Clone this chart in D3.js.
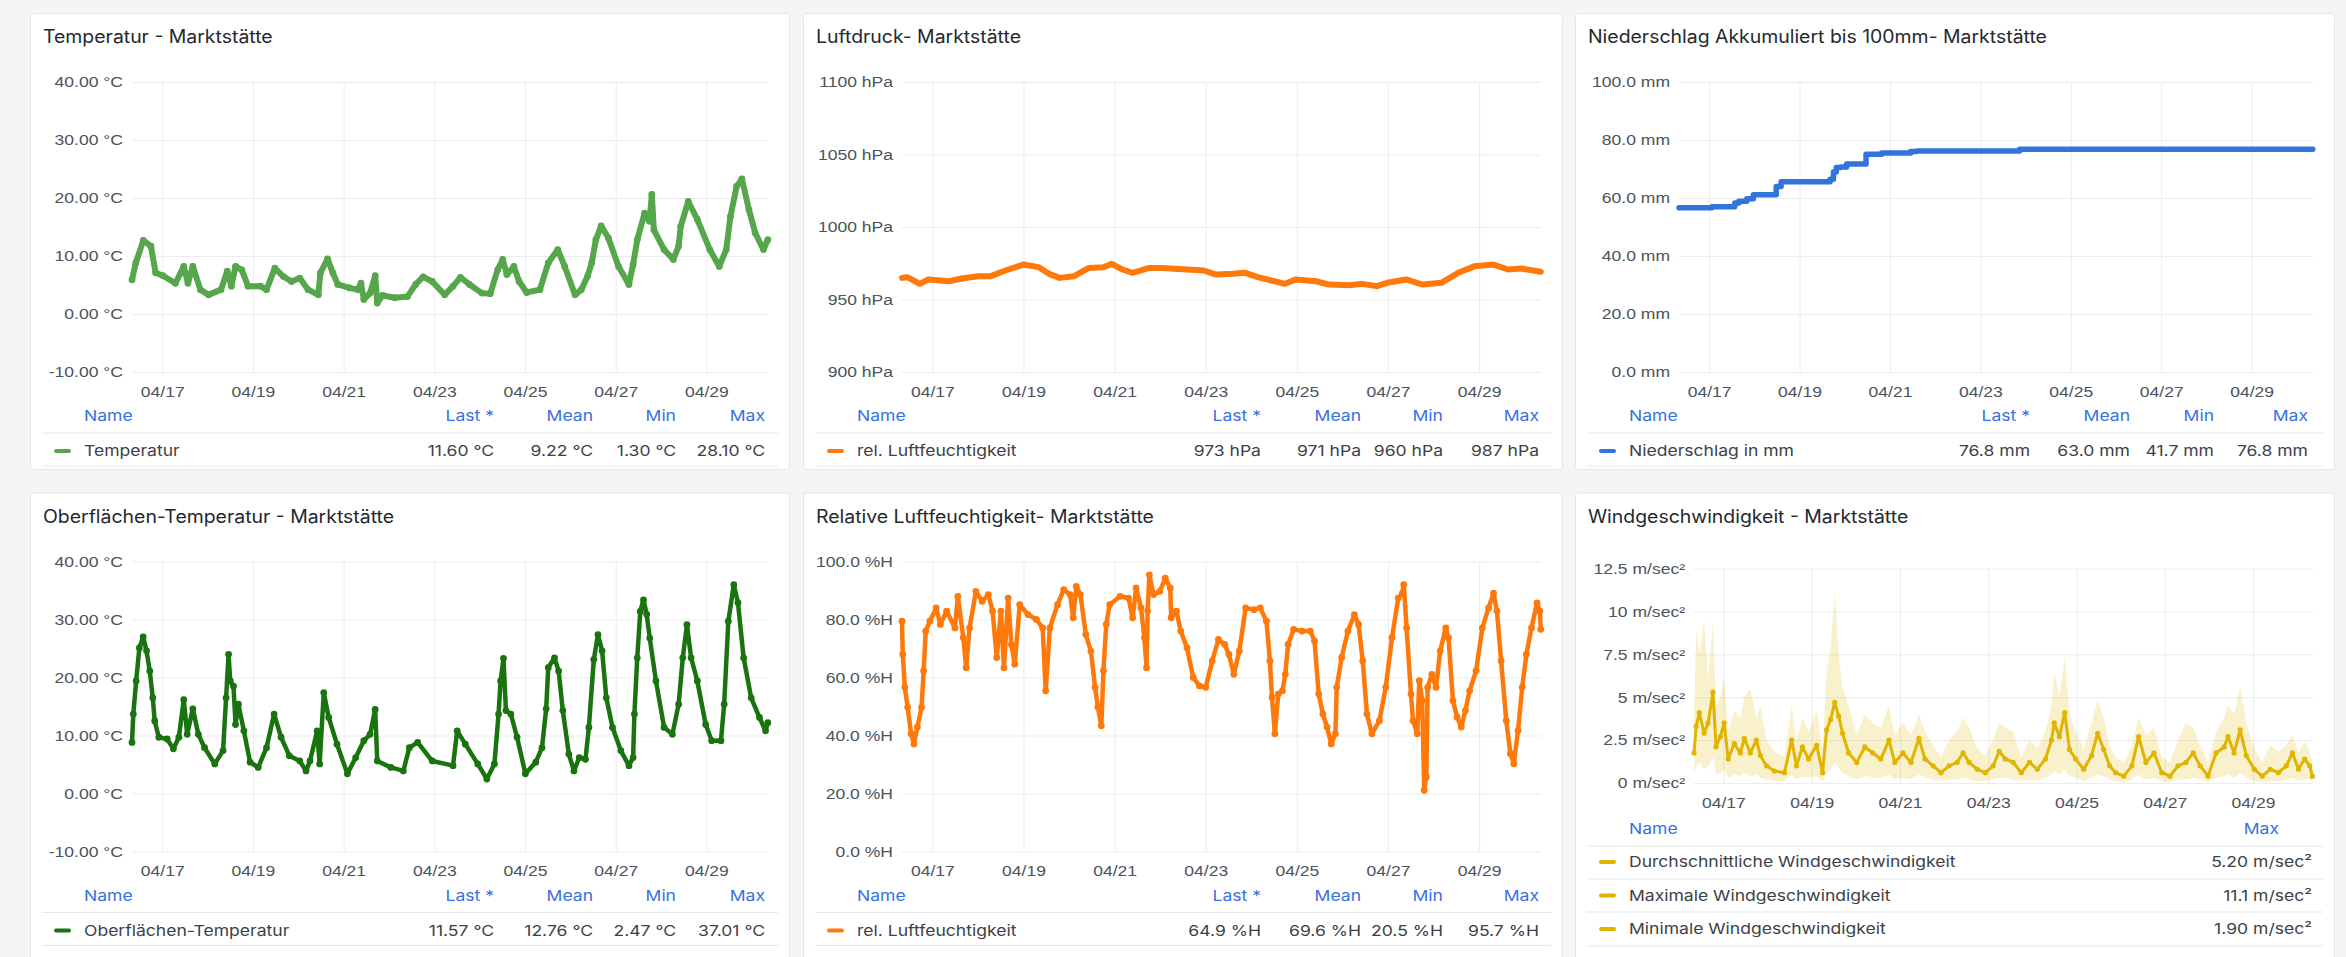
<!DOCTYPE html>
<html>
<head>
<meta charset="utf-8">
<script src="https://cdn.jsdelivr.net/npm/d3@7"></script>
<style>
  html, body { margin: 0; padding: 0; background: #f4f5f5; }
  svg { display: block; font-family: Inter, "Noto Sans", sans-serif; }
  .grid line { stroke: #ebecee; stroke-width: 1; }
  .grid text { fill: #4d535b; font-size: 15px; }
</style>
</head>
<body>
<div id="graph-container"></div>
<script>
// hours since 2024-04-16 00:00, value
const temperatur = [[8,5.9],[10,8.8],[14,12.7],[18,11.7],[20.5,7.1],[24.4,6.6],[31,5.3],[35.4,8.2],[37.6,5.3],[40.2,8.2],[44.2,4.2],[48.5,3.3],[55.1,4.2],[58.4,7.4],[60.6,4.8],[62.8,8.2],[66.1,7.6],[69.4,4.8],[75.9,4.8],[79.2,4.2],[83.6,7.9],[88,6.5],[92.4,5.6],[96.8,6.2],[101.2,4.2],[106.6,3.3],[107.7,7.1],[111.5,9.5],[114.3,7.1],[116.9,5.1],[123.1,4.5],[127.5,4.2],[129.2,5.3],[130.7,2.5],[134,3.6],[136.7,6.6],[137.8,1.9],[140.6,3.2],[147.2,2.8],[153.8,3.0],[158.1,5.1],[162.1,6.4],[166.9,5.6],[173.5,3.3],[177.9,4.8],[181.8,6.3],[186.6,5.1],[193.2,3.6],[197.6,3.5],[201.5,7.6],[204.2,9.4],[206.4,6.8],[210.1,8.2],[212.9,5.6],[216.9,3.7],[223.9,4.2],[228.3,8.8],[233.3,11.1],[237,8.2],[242.5,3.3],[245.8,4.2],[249.1,6.5],[251.3,8.8],[253.5,12.8],[256.3,15.2],[260.1,13.1],[265.5,8.2],[271,5.1],[273.2,8.5],[275.4,12.8],[279.3,17.4],[281.9,16.0],[283.1,20.6],[284.2,14.5],[289.6,11.1],[294.5,9.4],[297.3,11.7],[298.4,15.1],[302.4,19.4],[307.2,16.3],[313.8,11.1],[318.8,8.2],[322.5,11.1],[324.7,16.8],[328,22.0],[330.8,23.3],[334.5,18.0],[337.8,14.0],[342.2,11.1],[344.5,12.8]];

const luftdruck = [[8,964.9],[10.8,965.4],[17.4,960.8],[21.8,963.8],[32.8,962.6],[39.4,964.5],[48.2,966.1],[54.8,966.1],[61.4,969.5],[65.8,971.4],[71.9,974.1],[80,972.3],[85.5,967.7],[91,964.9],[98.7,966.1],[106.4,971.8],[114.1,972.3],[118.5,974.6],[124,970.7],[129.5,968.4],[138.3,971.8],[144.9,971.8],[158.1,970.7],[166.9,970],[173.5,967.2],[182.2,967.7],[188.8,968.4],[195.4,965.4],[209.7,960.8],[215.2,963.8],[226.2,962.6],[232.8,960.3],[243.8,959.9],[250.4,960.8],[258.1,959.2],[263.6,961.5],[273.5,963.8],[282.3,960.3],[292.1,961.5],[301,968.4],[309.7,973],[319.6,974.1],[327.3,970.7],[333.9,971.4],[344.5,969.1]];

const niederschlag = [[8,56.6],[25.5,57.0],[37.6,58.3],[39.8,58.9],[44,59.7],[47.5,61.1],[59.6,64.0],[62.2,65.6],[88.2,66.5],[90,69.0],[91.5,70.5],[93.7,70.7],[97,71.7],[107.3,75.1],[115.6,75.5],[131,76.0],[134.3,76.2],[188.8,76.8],[344.5,76.8]];

const oberflaeche = [[8,8.8],[8.7,13.7],[10.2,19.4],[11.9,25.1],[13.9,27.0],[15.7,24.6],[17.4,21.1],[19,16.5],[20,12.5],[22.2,9.7],[26.6,9.4],[29.9,7.7],[32.8,9.7],[35.4,16.2],[37.2,10.2],[40.2,14.6],[43.1,10.2],[46.4,7.9],[51.8,5.1],[56.2,7.4],[57.8,16.5],[59.1,24.0],[60,19.4],[61.7,18.5],[62.8,11.9],[64.3,15.4],[67.2,10.8],[70.5,5.4],[74.8,4.5],[79.2,7.9],[83.2,13.7],[86.9,9.7],[91.3,6.5],[96.8,5.6],[100.1,3.9],[102.2,5.6],[106,10.8],[107.3,5.1],[109.5,17.4],[112.1,13.1],[116.5,8.5],[122,3.4],[126.4,6.2],[130.7,9.1],[134,10.2],[136.7,14.5],[137.8,5.6],[145,4.5],[151.6,3.9],[154.8,7.9],[159.2,8.8],[166.9,5.6],[177.9,4.8],[180.1,10.8],[184.4,8.5],[191,5.1],[195.8,2.5],[199.8,5.1],[202,13.7],[203.1,19.4],[204.6,23.3],[205.9,14.3],[208.5,13.7],[211.8,9.7],[216.2,3.4],[221.7,5.4],[225,7.9],[227.2,14.6],[228.3,21.7],[231.6,23.4],[233.8,21.1],[236,14.3],[239.2,6.8],[241.9,3.9],[244.7,6.2],[248,5.9],[249.8,11.4],[252.4,23.1],[254.6,27.4],[256.8,24.6],[259,16.5],[262.3,11.4],[266.7,7.4],[271,4.8],[273.2,6.2],[273.9,13.7],[275.4,23.4],[277,31.4],[278.7,33.4],[280.4,30.9],[282,26.8],[285.3,19.4],[289.6,11.4],[294,10.2],[297.3,15.4],[299.5,23.4],[301.7,29.1],[303.9,23.4],[307.2,19.4],[311.6,11.9],[314.8,9.1],[319.7,9.1],[321.4,15.4],[323.6,29.7],[326.5,36.0],[328.7,32.9],[331.7,23.4],[335.7,16.5],[340.1,13.1],[343.3,10.8],[344.5,12.2]];

const feuchte = [[8,79.4],[8.4,68.0],[9.5,56.6],[11,49.7],[12.8,40.6],[14.3,37.1],[16.1,42.9],[18.3,49.7],[19.4,62.3],[20.5,76.0],[22.7,79.4],[26,84.0],[28.2,78.3],[31.5,82.9],[35.9,77.1],[37.4,88.0],[40.3,73.7],[41.8,63.4],[43.6,77.1],[46.9,89.7],[50.2,86.3],[53.5,88.6],[55.7,82.9],[57.9,66.9],[60.1,82.9],[61.7,63.4],[63.9,87.4],[65.6,71.4],[67.4,64.6],[70,85.1],[74.4,81.7],[78.8,80.0],[82.1,77.1],[83.7,55.4],[85.9,77.1],[89.9,85.1],[93.2,90.3],[96.5,88.6],[98.2,80.6],[99.8,91.4],[102,88.6],[104.8,74.9],[107.5,69.1],[109.7,56.6],[111.2,49.7],[113,43.4],[114.1,62.3],[115.6,78.3],[117.4,85.1],[122.9,88.0],[127.3,87.4],[129.5,80.6],[131.3,90.9],[133.9,84.0],[135.7,73.7],[136.8,63.4],[137.4,82.9],[138.3,95.4],[140.5,88.6],[143.8,89.7],[146.7,94.3],[149.3,90.9],[149.8,80.6],[152.6,82.9],[154.8,76.0],[158.1,70.3],[161.4,60.0],[164.7,57.1],[168,56.6],[171.4,65.7],[174.7,73.1],[178,71.4],[180.2,68.0],[182.8,61.1],[185.7,69.1],[189,84.0],[193.4,83.4],[196.7,84.0],[200,79.4],[201.8,65.7],[202.9,53.1],[204.4,40.6],[206.2,54.3],[208.4,55.4],[209.9,61.1],[211.4,71.4],[214.3,76.6],[218.7,76.0],[223.1,76.0],[225.3,72.6],[227.5,54.3],[229.7,47.4],[231.9,42.9],[234.1,37.1],[236.3,40.6],[237,56.6],[239.6,66.9],[242.9,76.0],[246.3,81.7],[248.5,78.3],[250.7,65.7],[252.9,47.4],[255.5,40.6],[259.5,45.1],[262.8,56.6],[266.1,73.7],[269.4,87.4],[271.6,89.1],[272.3,92.0],[273.8,77.1],[276.1,54.3],[277.2,45.1],[279.4,40.6],[280.5,58.9],[282,52.0],[283.1,21.1],[284.2,25.7],[284.9,56.6],[287.1,61.1],[289.3,56.6],[291.5,69.1],[294.4,77.1],[295.9,73.7],[298.2,52.0],[300.4,46.3],[302.6,42.9],[304.8,48.6],[307,55.4],[310.4,62.3],[313.7,77.1],[317,84.0],[319.6,89.1],[321.4,82.9],[323.6,65.7],[326.3,45.1],[328.5,33.7],[330.3,30.3],[332.5,41.7],[334.7,56.6],[336.9,68.0],[339.6,77.1],[342.5,85.7],[344,82.9],[344.5,76.6]];

const windHours = [8,9.2,10.9,13.5,15.7,18.3,20,22.3,24.4,26.6,29.9,33.2,35.4,38.6,41.9,44.1,47.4,51.7,57.2,61.1,63.7,67,70.3,74.7,77.9,80.1,82.3,84.5,86.7,88.8,92.1,96.5,100.9,105.2,109.6,114,117.2,121.6,126,130.3,133.6,138,142.3,146.7,151.1,154.3,157.6,162,166.4,170.7,174,177.3,181.6,186,190.4,194.7,199.1,202.4,203.9,206.7,209.6,212.2,215.5,219.9,224.2,227.5,230.8,234,237.3,241.7,246.1,249.8,253.7,258.1,262.4,266.8,271.2,275.5,279.5,283.2,287.5,291.9,296.3,298.4,301.7,305,308.3,312.7,317,321.4,325.8,330.1,333.4,336.7,340,342.8,344.3];
const windAvg = [1.75,3.3,4.1,2.9,3.5,5.3,2.1,2.7,3.5,1.4,2.3,1.75,2.6,1.75,2.5,1.6,1.0,0.7,0.6,2.5,1.0,2.1,1.4,2.2,0.6,3.1,3.7,4.7,3.9,2.9,1.75,1.2,2.1,1.75,1.4,2.5,1.2,1.75,1.2,2.6,1.4,1.0,0.6,1.0,1.2,1.75,1.2,0.8,0.6,1.0,1.85,1.4,1.2,0.6,1.2,0.8,1.4,2.5,3.5,2.7,4.1,1.95,1.4,0.8,1.6,2.9,1.95,1.0,0.6,0.4,1.0,2.7,1.2,1.75,0.6,0.4,1.0,1.2,1.75,1.0,0.4,1.75,2.1,2.7,1.75,3.1,1.6,0.8,0.4,0.8,0.6,1.0,1.75,0.8,1.4,1.0,0.4];
const windMax = [3.5,9.0,7.5,9.5,6.0,9.4,4.5,5.0,6.2,3.0,4.2,3.8,5.0,5.5,3.8,4.5,2.5,1.8,1.5,4.6,2.5,3.8,3.0,4.2,2.0,6.5,8.0,11.1,7.5,5.5,4.5,2.8,4.0,3.5,3.2,4.5,2.8,3.5,2.8,4.0,3.0,2.2,1.5,2.5,3.0,3.8,3.2,2.0,1.6,2.5,3.5,3.2,3.0,1.5,2.5,2.0,3.0,4.5,6.5,5.0,7.4,4.0,3.0,2.0,3.5,4.8,3.8,2.2,1.5,1.2,2.2,3.8,2.8,3.2,1.5,1.2,2.5,3.5,3.2,2.2,1.2,3.0,3.8,4.5,4.0,5.6,3.5,2.0,1.2,2.2,1.8,2.2,2.8,1.8,2.4,1.8,1.2];
const windMin = [0.6,1.0,1.2,0.8,1.0,1.5,0.5,0.6,0.8,0.3,0.5,0.4,0.6,0.4,0.5,0.3,0.2,0.1,0.1,0.5,0.2,0.4,0.3,0.4,0.1,0.6,0.8,1.2,0.9,0.6,0.4,0.2,0.4,0.3,0.3,0.5,0.2,0.3,0.2,0.5,0.3,0.2,0.1,0.2,0.2,0.3,0.2,0.1,0.1,0.2,0.3,0.3,0.2,0.1,0.2,0.1,0.3,0.5,0.7,0.5,0.8,0.4,0.3,0.1,0.3,0.5,0.4,0.2,0.1,0.05,0.2,0.5,0.2,0.3,0.1,0.05,0.2,0.2,0.3,0.2,0.05,0.3,0.4,0.5,0.3,0.6,0.3,0.1,0.05,0.1,0.1,0.2,0.3,0.1,0.2,0.2,0.05];

const statHeaders = ['Last *', 'Mean', 'Min', 'Max'];
const tempStats = ['11.60 °C', '9.22 °C', '1.30 °C', '28.10 °C'];
const druckStats = ['973 hPa', '971 hPa', '960 hPa', '987 hPa'];
const regenStats = ['76.8 mm', '63.0 mm', '41.7 mm', '76.8 mm'];
const oberStats = ['11.57 °C', '12.76 °C', '2.47 °C', '37.01 °C'];
const feuchteStats = ['64.9 %H', '69.6 %H', '20.5 %H', '95.7 %H'];
const windNames = ['Durchschnittliche Windgeschwindigkeit', 'Maximale Windgeschwindigkeit', 'Minimale Windgeschwindigkeit'];
const windStats = ['5.20 m/sec²', '11.1 m/sec²', '1.90 m/sec²'];

const base = new Date(2024, 3, 16, 0, 0);
const at = h => new Date(base.getTime() + h * 3600e3);
const timeStart = at(8), timeEnd = at(344.6);

const width = 2346, height = 957;
const svg = d3.select('#graph-container').append('svg')
  .attr('width', width).attr('height', height);

svg.append('rect').attr('width', width).attr('height', height).attr('fill', '#f4f5f5');

function drawPanel(p) {
  const g = svg.append('g').attr('transform', `translate(${p.left},${p.top})`);
  g.append('rect')
    .attr('x', 0.5).attr('y', 0.5)
    .attr('width', 759).attr('height', p.h)
    .attr('rx', 3)
    .attr('fill', '#fff')
    .attr('stroke', '#e4e6e9');

  g.append('text')
    .attr('class', 'title')
    .attr('x', 13).attr('y', 24).attr('dy', '0.35em')
    .attr('font-size', 18).attr('font-weight', 400)
    .attr('fill', '#24292e')
    .text(p.title);

  const x = d3.scaleTime().domain([timeStart, timeEnd]).range([p.plotLeft, 738]);
  const y = d3.scaleLinear().domain(p.yDomain).range([p.plotBottom, p.plotTop]);

  g.append('g')
    .attr('class', 'grid')
    .attr('transform', `translate(${p.plotLeft},0)`)
    .call(d3.axisLeft(y).tickValues(p.yTicks).tickFormat(p.fmt)
      .tickSize(-(738 - p.plotLeft)).tickPadding(9))
    .call(a => a.select('.domain').remove());

  g.append('g')
    .attr('class', 'grid')
    .attr('transform', `translate(0,${p.plotBottom})`)
    .call(d3.axisBottom(x).ticks(d3.timeDay.every(2)).tickFormat(d3.timeFormat('%m/%d'))
      .tickSize(-(p.plotBottom - p.plotTop)).tickPadding(14))
    .call(a => a.select('.domain').remove());

  p.draw(g, x, y);
  return g;
}

function thickSeries(g, x, y, data, color, lw, r, curve) {
  const line = d3.line()
    .x(d => x(at(d[0])))
    .y(d => y(d[1]))
    .curve(curve || d3.curveLinear);
  g.append('path')
    .datum(data)
    .attr('fill', 'none')
    .attr('stroke', color)
    .attr('stroke-width', lw)
    .attr('stroke-linejoin', 'round')
    .attr('stroke-linecap', 'round')
    .attr('d', line);
  if (r > 0) {
    g.append('g').selectAll('circle')
      .data(data)
      .enter()
      .append('circle')
      .attr('cx', d => x(at(d[0])))
      .attr('cy', d => y(d[1]))
      .attr('r', r)
      .attr('fill', color);
  }
}

function legendFour(g, name, color, stats, cols) {
  g.append('text').attr('x', 54).attr('y', 403).attr('dy', '0.35em')
    .attr('font-size', 15).attr('fill', '#3871dc').text('Name');
  statHeaders.forEach((h, i) => {
    g.append('text').attr('x', cols[i]).attr('y', 403).attr('dy', '0.35em')
      .attr('text-anchor', 'end').attr('font-size', 15).attr('fill', '#3871dc').text(h);
  });
  [420, 453].forEach(ly => {
    g.append('line').attr('x1', 12).attr('x2', 748).attr('y1', ly).attr('y2', ly)
      .attr('stroke', '#e4e6e9');
  });
  g.append('rect').attr('x', 24).attr('y', 436).attr('width', 17).attr('height', 4)
    .attr('rx', 2).attr('fill', color);
  g.append('text').attr('x', 54).attr('y', 438).attr('dy', '0.35em')
    .attr('font-size', 15).attr('fill', '#3c4148').text(name);
  stats.forEach((s, i) => {
    g.append('text').attr('x', cols[i]).attr('y', 438).attr('dy', '0.35em')
      .attr('text-anchor', 'end').attr('font-size', 15).attr('fill', '#3c4148').text(s);
  });
}

const fmtTemp = v => `${v.toFixed(2)} °C`;

// Temperatur
drawPanel({
  left: 30, top: 13, h: 456, title: 'Temperatur - Marktstätte',
  plotLeft: 102, plotTop: 69, plotBottom: 359,
  yDomain: [-10, 40], yTicks: [-10, 0, 10, 20, 30, 40], fmt: fmtTemp,
  draw: (g, x, y) => {
    thickSeries(g, x, y, temperatur, '#56a64b', 6, 3.4);
    legendFour(g, 'Temperatur', '#56a64b', tempStats, [464, 563, 646, 735]);
  }
});

// Luftdruck
drawPanel({
  left: 803, top: 13, h: 456, title: 'Luftdruck- Marktstätte',
  plotLeft: 99, plotTop: 69, plotBottom: 359,
  yDomain: [900, 1100], yTicks: [900, 950, 1000, 1050, 1100], fmt: v => `${v} hPa`,
  draw: (g, x, y) => {
    thickSeries(g, x, y, luftdruck, '#ff780a', 6, 0);
    legendFour(g, 'rel. Luftfeuchtigkeit', '#ff780a', druckStats, [458, 558, 640, 736]);
  }
});

// Niederschlag
drawPanel({
  left: 1575, top: 13, h: 456, title: 'Niederschlag Akkumuliert bis 100mm- Marktstätte',
  plotLeft: 104, plotTop: 69, plotBottom: 359,
  yDomain: [0, 100], yTicks: [0, 20, 40, 60, 80, 100], fmt: v => `${v.toFixed(1)} mm`,
  draw: (g, x, y) => {
    thickSeries(g, x, y, niederschlag, '#3274d9', 5.5, 0, d3.curveStepAfter);
    legendFour(g, 'Niederschlag in mm', '#3274d9', regenStats, [455, 555, 639, 733]);
  }
});

// Oberflächen-Temperatur
drawPanel({
  left: 30, top: 492.5, h: 480, title: 'Oberflächen-Temperatur - Marktstätte',
  plotLeft: 102, plotTop: 69, plotBottom: 359,
  yDomain: [-10, 40], yTicks: [-10, 0, 10, 20, 30, 40], fmt: fmtTemp,
  draw: (g, x, y) => {
    thickSeries(g, x, y, oberflaeche, '#19730e', 4.5, 3.4);
    legendFour(g, 'Oberflächen-Temperatur', '#19730e', oberStats, [464, 563, 646, 735]);
  }
});

// Relative Luftfeuchtigkeit
drawPanel({
  left: 803, top: 492.5, h: 480, title: 'Relative Luftfeuchtigkeit- Marktstätte',
  plotLeft: 99, plotTop: 69, plotBottom: 359,
  yDomain: [0, 100], yTicks: [0, 20, 40, 60, 80, 100], fmt: v => `${v.toFixed(1)} %H`,
  draw: (g, x, y) => {
    thickSeries(g, x, y, feuchte, '#ff780a', 4.5, 3.4);
    legendFour(g, 'rel. Luftfeuchtigkeit', '#ff780a', feuchteStats, [458, 558, 640, 736]);
  }
});

// Windgeschwindigkeit
drawPanel({
  left: 1575, top: 492.5, h: 480, title: 'Windgeschwindigkeit - Marktstätte',
  plotLeft: 119, plotTop: 76, plotBottom: 290.5,
  yDomain: [0, 12.5], yTicks: [0, 2.5, 5, 7.5, 10, 12.5], fmt: v => `${d3.format('~g')(v)} m/sec²`,
  draw: (g, x, y) => {
    const color = '#e0b400';
    const band = d3.area()
      .x((d, i) => x(at(windHours[i])))
      .y0((d, i) => y(windMin[i]))
      .y1((d, i) => y(windMax[i]));
    g.append('path').datum(windHours)
      .attr('fill', color).attr('fill-opacity', 0.2)
      .attr('d', band);
    const avg = windHours.map((h, i) => [h, windAvg[i]]);
    thickSeries(g, x, y, avg, color, 3, 2.6);

    g.append('text').attr('x', 54).attr('y', 336.5).attr('dy', '0.35em')
      .attr('font-size', 15).attr('fill', '#3871dc').text('Name');
    g.append('text').attr('x', 704).attr('y', 336.5).attr('dy', '0.35em')
      .attr('text-anchor', 'end').attr('font-size', 15).attr('fill', '#3871dc').text('Max');
    [353.5, 386.5, 419.5, 453.5].forEach(ly => {
      g.append('line').attr('x1', 12).attr('x2', 748).attr('y1', ly).attr('y2', ly)
        .attr('stroke', '#e4e6e9');
    });
    windNames.forEach((n, i) => {
      const ry = 369.5 + i * 33.5;
      g.append('rect').attr('x', 24).attr('y', ry - 2).attr('width', 17).attr('height', 4)
        .attr('rx', 2).attr('fill', color);
      g.append('text').attr('x', 54).attr('y', ry).attr('dy', '0.35em')
        .attr('font-size', 15).attr('fill', '#3c4148').text(n);
      g.append('text').attr('x', 737).attr('y', ry).attr('dy', '0.35em')
        .attr('text-anchor', 'end').attr('font-size', 15).attr('fill', '#3c4148').text(windStats[i]);
    });
  }
});

// the screenshot's text is a little wider than Inter: stretch it around its anchor
svg.selectAll('text').each(function () {
  const t = d3.select(this);
  const s = t.classed('title') ? 1.08 : 1.17;
  const x0 = +t.attr('x') || 0;
  t.attr('transform', `translate(${x0 * (1 - s)},0) scale(${s},1)`);
});
</script>
</body>
</html>
